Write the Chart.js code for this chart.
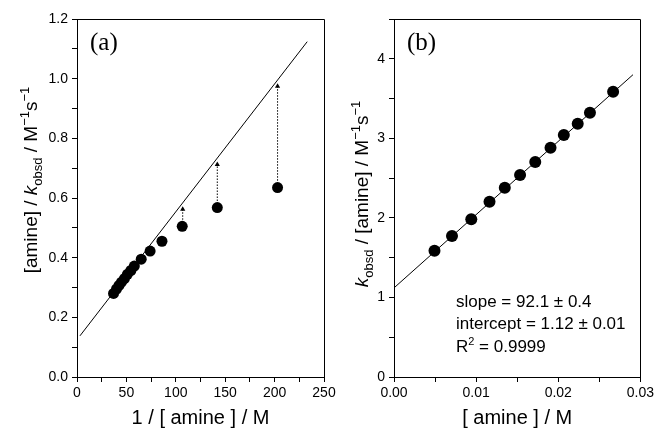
<!DOCTYPE html>
<html lang="en">
<head>
<meta charset="UTF-8">
<title>Amine kinetics</title>
<script src="https://cdn.jsdelivr.net/npm/chart.js"></script>
<style>
  body { margin: 0; background: #fff; }
  #wrap { position: relative; width: 657px; height: 429px; }
  canvas { position: absolute; top: 0; }
  #chartA { left: 0; }
  #chartB { left: 330px; }
</style>
</head>
<body>
<div id="wrap">
  <canvas id="chartA" width="350" height="429"></canvas>
  <canvas id="chartB" width="327" height="429"></canvas>
</div>
<script>
// panel (a): [amine]/kobsd against 1/[amine]
const invAmine   = [37, 40, 42.5, 45, 48, 51, 54.5, 58, 65, 74, 86, 106.5, 142, 203];
const amineOverK = [0.28, 0.295, 0.307, 0.318, 0.33, 0.344, 0.357, 0.372, 0.395, 0.422, 0.455, 0.505, 0.568, 0.635];
const fitAX = [3, 233];
const fitAY = [0.138, 1.124];
const arrowX    = [107, 142, 203];
const arrowFrom = [0.527, 0.59, 0.658];
const arrowTo   = [0.562, 0.712, 0.975];

// panel (b): kobsd/[amine] against [amine]
const amine      = [0.00493, 0.00706, 0.00941, 0.01163, 0.01349, 0.01535, 0.0172, 0.01906, 0.02068, 0.02237, 0.02386, 0.02668];
const kOverAmine = [1.587, 1.772, 1.982, 2.203, 2.379, 2.539, 2.702, 2.882, 3.042, 3.184, 3.322, 3.586];
const fitBX = [0, 0.0291];
const fitBY = [1.12, 3.80];

const titleA = [{t: '[amine] / '}, {t: 'k', it: true}, {t: 'obsd', sub: true}, {t: ' / M'}, {t: '\u22121', sup: true}, {t: 's'}, {t: '\u22121', sup: true}];
const titleB = [{t: 'k', it: true}, {t: 'obsd', sub: true}, {t: ' / [amine] / M'}, {t: '\u22121', sup: true}, {t: 's'}, {t: '\u22121', sup: true}];
const notesB = [
  [{t: 'slope = 92.1 \u00b1 0.4'}],
  [{t: 'intercept = 1.12 \u00b1 0.01'}],
  [{t: 'R'}, {t: '2', sup: true}, {t: ' = 0.9999'}]
];

const SANS = '"Liberation Sans", Arial, sans-serif';
const SERIF = '"Liberation Serif", "Times New Roman", serif';

function drawRich(ctx, segs, x, y, size, rotate, center) {
  const fontFor = s => (s.it ? 'italic ' : '') + (s.sub || s.sup ? Math.round(size * 0.66) : size) + 'px ' + SANS;
  let w = 0;
  segs.forEach(s => { ctx.font = fontFor(s); w += ctx.measureText(s.t).width; });
  ctx.save();
  ctx.translate(x, y);
  if (rotate) ctx.rotate(-Math.PI / 2);
  ctx.fillStyle = '#000';
  ctx.textAlign = 'left';
  ctx.textBaseline = 'alphabetic';
  let cx = center ? -w / 2 : 0;
  segs.forEach(s => {
    ctx.font = fontFor(s);
    const dy = s.sub ? size * 0.28 : (s.sup ? -size * 0.42 : 0);
    ctx.fillText(s.t, cx, dy);
    cx += ctx.measureText(s.t).width;
  });
  ctx.restore();
}

// frame, rotated y title, panel letter and notes
const decor = {
  id: 'decor',
  afterDraw(chart, args, o) {
    const {ctx, chartArea: a} = chart;
    ctx.save();
    ctx.strokeStyle = '#000';
    ctx.lineWidth = 1;
    ctx.beginPath();
    ctx.moveTo(Math.round(a.left) + 0.5, Math.round(a.top) + 0.5);
    ctx.lineTo(Math.round(a.right) + 0.5, Math.round(a.top) + 0.5);
    ctx.lineTo(Math.round(a.right) + 0.5, Math.round(a.bottom) + 0.5);
    ctx.stroke();
    ctx.fillStyle = '#000';
    ctx.font = '25px ' + SERIF;
    ctx.textAlign = 'left';
    ctx.textBaseline = 'alphabetic';
    ctx.fillText(o.label, a.left + o.labelDx, a.top + 31);
    ctx.restore();
    drawRich(ctx, o.title, o.titleX, o.titleY, 19, true, true);
    (o.notes || []).forEach((line, i) => {
      drawRich(ctx, line, a.left + 62, o.notesY[i], 17, false, false);
    });
  }
};

function axisX(min, max, step, every, digits, title, height) {
  return {
    type: 'linear', min: min, max: max,
    afterFit: s => { s.height = height; },
    ticks: {
      stepSize: step, autoSkip: false, maxRotation: 0, padding: 3, color: '#000',
      font: {family: SANS, size: 14},
      callback: v => Math.abs(Math.round(v / every) * every - v) < step / 10 ? v.toFixed(digits) : ''
    },
    grid: {drawOnChartArea: false, tickLength: 5, tickColor: '#000'},
    border: {color: '#000', width: 1},
    title: {display: true, text: title, color: '#000', font: {family: SANS, size: 20, lineHeight: 1}, padding: {top: 0, bottom: 1}}
  };
}

function axisY(min, max, step, every, digits, width) {
  return {
    type: 'linear', min: min, max: max,
    afterFit: s => { s.width = width; },
    ticks: {
      stepSize: step, autoSkip: false, padding: 4, color: '#000',
      font: {family: SANS, size: 14},
      callback: v => Math.abs(Math.round(v / every) * every - v) < step / 10 ? v.toFixed(digits) : ''
    },
    grid: {drawOnChartArea: false, tickLength: 5, tickColor: '#000'},
    border: {color: '#000', width: 1}
  };
}

const pts = (xs, ys) => xs.map((x, i) => ({x: x, y: ys[i]}));

const arrowSets = arrowX.map((x, i) => ({
  data: [{x: x, y: arrowFrom[i]}, {x: x, y: arrowTo[i]}],
  showLine: true,
  borderColor: '#000', borderWidth: 1, borderDash: [1.5, 1.5],
  pointStyle: 'triangle',
  pointRadius: c => c.dataIndex === 1 ? 3 : 0,
  pointBackgroundColor: '#000', pointBorderWidth: 0
}));

new Chart(document.getElementById('chartA'), {
  type: 'scatter',
  data: {
    datasets: [
      {data: pts(fitAX, fitAY), showLine: true, borderColor: '#000', borderWidth: 1, pointRadius: 0},
      ...arrowSets,
      {data: pts(invAmine, amineOverK), pointRadius: 5.5, pointBackgroundColor: '#000', pointBorderWidth: 0}
    ]
  },
  options: {
    responsive: false, animation: false,
    layout: {padding: {top: 19, right: 26, left: 0, bottom: 0}},
    plugins: {
      legend: {display: false}, tooltip: {enabled: false},
      decor: {label: '(a)', labelDx: 13, title: titleA, titleX: 37, titleY: 180}
    },
    scales: {
      x: axisX(0, 250, 25, 50, 0, '1 / [ amine ] / M', 52),
      y: axisY(0, 1.2, 0.1, 0.2, 1, 77)
    }
  },
  plugins: [decor]
});

new Chart(document.getElementById('chartB'), {
  type: 'scatter',
  data: {
    datasets: [
      {data: pts(fitBX, fitBY), showLine: true, borderColor: '#000', borderWidth: 1, pointRadius: 0},
      {data: pts(amine, kOverAmine), pointRadius: 6, pointBackgroundColor: '#000', pointBorderWidth: 0}
    ]
  },
  options: {
    responsive: false, animation: false,
    layout: {padding: {top: 19, right: 15, left: 0, bottom: 0}},
    plugins: {
      legend: {display: false}, tooltip: {enabled: false},
      decor: {label: '(b)', labelDx: 13, title: titleB, titleX: 38, titleY: 194, notes: notesB, notesY: [307, 329, 352]}
    },
    scales: {
      x: axisX(0, 0.03, 0.005, 0.01, 2, '[ amine ] / M', 52),
      y: axisY(0, 4.5, 0.5, 1, 0, 64)
    }
  },
  plugins: [decor]
});
</script>
</body>
</html>
